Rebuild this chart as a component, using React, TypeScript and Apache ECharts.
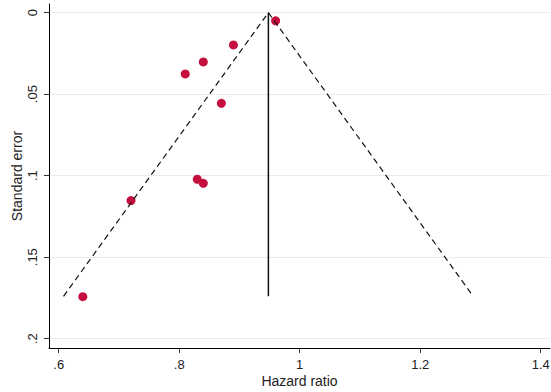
import React, { useEffect, useRef } from "react";
import * as echarts from "echarts";

// Study estimates: [hazard ratio, standard error]
const studyHR = [0.96, 0.89, 0.84, 0.81, 0.87, 0.83, 0.84, 0.72, 0.64];
const studySE = [0.005, 0.0198, 0.0302, 0.0376, 0.0556, 0.1022, 0.1047, 0.1153, 0.1742];

// Pooled estimate line and pseudo 95% confidence limits
const pooledLine = [[0.948, 0], [0.948, 0.174]];
const funnelLeft = [[0.608, 0.174], [0.948, 0]];
const funnelRight = [[0.948, 0], [1.288, 0.174]];

const xTicks = [0.6, 0.8, 1, 1.2, 1.4];
const yTicks = [0, 0.05, 0.1, 0.15, 0.2];

const fmt = (v: number) => {
  const s = String(Math.round(v * 1000) / 1000);
  return s.startsWith("0.") ? s.slice(1) : s;
};

export default function App() {
  const ref = useRef<HTMLDivElement>(null);
  useEffect(() => {
    if (!ref.current) return;
    const chart = echarts.init(ref.current, undefined, { renderer: "svg" });
    const font = "'Liberation Sans', Arial, sans-serif";
    chart.setOption({
      animation: false,
      backgroundColor: "#ffffff",
      grid: { left: 49, right: 1, top: 4, bottom: 44, outerBoundsMode: "none" },
      xAxis: {
        type: "value",
        min: 0.5839,
        max: 1.4154,
        name: "Hazard ratio",
        nameLocation: "middle",
        nameGap: 26,
        nameMoveOverlap: false,
        nameTextStyle: { fontFamily: font, fontSize: 14, color: "#222" },
        axisLine: { show: true, onZero: false, lineStyle: { color: "#000", width: 1 } },
        axisTick: { show: true, length: 5, customValues: xTicks, lineStyle: { color: "#333" } },
        axisLabel: {
          customValues: xTicks,
          formatter: fmt,
          margin: 10,
          fontFamily: font,
          fontSize: 13,
          color: "#222",
        },
        splitLine: { show: false },
      },
      yAxis: {
        type: "value",
        inverse: true,
        min: -0.0053,
        max: 0.2057,
        name: "Standard error",
        nameLocation: "middle",
        nameGap: 25,
        nameRotate: 90,
        nameMoveOverlap: false,
        nameTextStyle: { fontFamily: font, fontSize: 14, color: "#222" },
        axisLine: { show: true, onZero: false, lineStyle: { color: "#000", width: 1 } },
        axisTick: { show: true, length: 5, customValues: yTicks, lineStyle: { color: "#333" } },
        axisLabel: {
          customValues: yTicks,
          formatter: fmt,
          rotate: 90,
          margin: 10,
          fontFamily: font,
          fontSize: 13,
          color: "#222",
        },
        splitLine: { show: true, lineStyle: { color: "#e6ecef", width: 1 } },
      },
      series: [
        {
          type: "line",
          data: funnelLeft,
          symbol: "none",
          lineStyle: { color: "#111", width: 1.2, type: [6, 4] },
        },
        {
          type: "line",
          data: funnelRight,
          symbol: "none",
          lineStyle: { color: "#111", width: 1.2, type: [6, 4] },
        },
        {
          type: "line",
          data: pooledLine,
          symbol: "none",
          lineStyle: { color: "#111", width: 1.5 },
        },
        {
          type: "scatter",
          data: studyHR.map((h, i) => [h, studySE[i]]),
          symbolSize: 9,
          itemStyle: { color: "#c50f3c", opacity: 1 },
        },
      ],
    });
    return () => chart.dispose();
  }, []);
  return (
    <div
      ref={ref}
      style={{ position: "fixed", left: 0, top: 0, width: 551, height: 392 }}
    />
  );
}
